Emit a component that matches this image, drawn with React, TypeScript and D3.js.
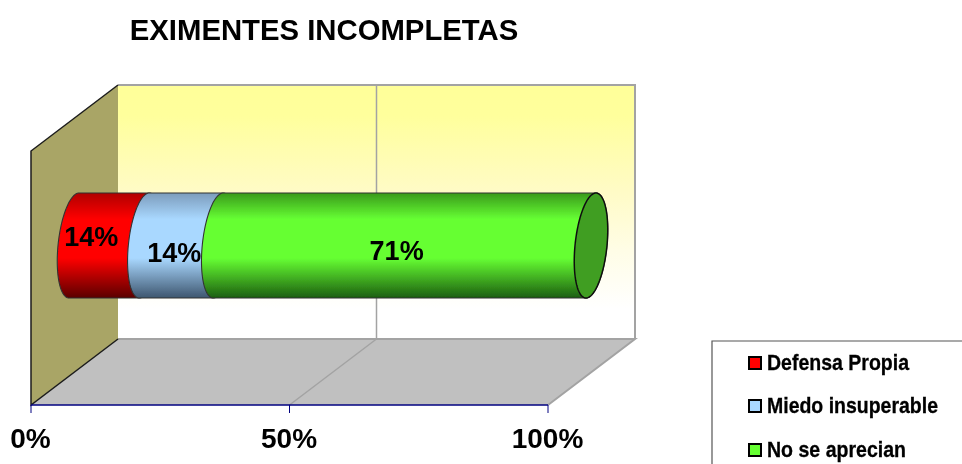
import React from "react";
import * as d3 from "d3";

const categories = ["Defensa Propia", "Miedo insuperable", "No se aprecian"];
const values = [13.6, 14.3, 72.1];
const barColors = ["#FF0000", "#A9D8FF", "#66FF33"];
const barTops = ["#B00000", "#7C9CBC", "#3A9A1C"];
const barBottoms = ["#5A0000", "#3E566F", "#1C5E10"];
const axisTicks = [0, 50, 100];
const labelTexts = ["14%", "14%", "71%"];

const W = 962, H = 464;
const depth = { x: 87, y: -66 };
const plot = { left: 31, right: 548, bottom: 405, top: 151 };
const x = d3.scaleLinear().domain([0, 100]).range([plot.left, plot.right]);
const bar = { top: 193, bottom: 298, shift: 43, rx: 16, lean: 5 };
const labelOffset = [[-18, -5], [-7, 11], [-8, 9]];
const font = "'Liberation Sans', Arial, sans-serif";

const cy = (bar.top + bar.bottom) / 2;
const ry = (bar.bottom - bar.top) / 2;
const bx = (v: number) => x(v) + bar.shift;
const ang = d3.range(0, 65).map((i) => (i / 64) * Math.PI);
// half of the leaning ellipse, from its top (t=0) to its bottom (t=PI); side=-1 bulges left
const edge = (v: number, side: number) =>
  ang.map((t): [number, number] => [
    bx(v) + side * bar.rx * Math.sin(t) + bar.lean * Math.cos(t),
    cy - ry * Math.cos(t),
  ]);
const line = d3.line();
const seg = (a: number, b: number) => {
  const left = edge(a, -1);
  const right = edge(b, 1).reverse();
  return line([...left, ...right])! + "Z";
};
const cum = d3.cumsum(values);
const starts = [0, ...cum.slice(0, -1)];
const legendRows = [370, 413, 457];
const legendLen = [142, 171, 139];

export default function App() {
  const poly = (p: [number, number][]) => line(p)! + "Z";
  const bl = x(0), br = x(100), y0 = plot.bottom;
  const back = { l: bl + depth.x, r: br + depth.x, b: y0 + depth.y, t: plot.top + depth.y };
  return (
    <svg width={W} height={H} style={{ position: "absolute", left: 0, top: 0 }} fontFamily={font}>
      <defs>
        <filter id="soft" x="0" y="0" width="100%" height="100%">
          <feGaussianBlur stdDeviation="0.4" />
        </filter>
        <linearGradient id="wall" x1="0" y1="0" x2="0" y2="1">
          <stop offset="0" stopColor="#FFFF99" />
          <stop offset="0.12" stopColor="#FFFF9C" />
          <stop offset="0.42" stopColor="#FFFBC6" />
          <stop offset="0.65" stopColor="#FFFDE6" />
          <stop offset="0.88" stopColor="#FFFFFF" />
        </linearGradient>
        {barColors.map((c, i) => (
          <linearGradient key={i} id={`g${i}`} gradientUnits="userSpaceOnUse" x1="0" x2="0" y1={bar.top} y2={bar.bottom}>
            <stop offset="0" stopColor={barTops[i]} />
            <stop offset="0.25" stopColor={c} />
            <stop offset="0.62" stopColor={c} />
            <stop offset="1" stopColor={barBottoms[i]} />
          </linearGradient>
        ))}
      </defs>
      <rect width={W} height={H} fill="#fff" />
      <g filter="url(#soft)">
        <text x={324} y={40} textAnchor="middle" fontWeight="bold" fontSize={29.3}>EXIMENTES INCOMPLETAS</text>

        <rect x={back.l} y={back.t} width={back.r - back.l} height={back.b - back.t} fill="url(#wall)" />
        <path d={`M${back.l},${back.t}H${back.r}V${back.b}`} fill="none" stroke="#A3A3A3" strokeWidth={2} />
        <path d={poly([[bl, y0], [br, y0], [back.r, back.b], [back.l, back.b]])} fill="#C0C0C0" />
        <path d={`M${back.l},${back.b}H${back.r}L${br},${y0}`} fill="none" stroke="#A3A3A3" strokeWidth={2} />
        <path d={`M${x(50)},${y0}L${x(50) + depth.x},${back.b}V${back.t}`} fill="none" stroke="#A3A3A3" strokeWidth={1.5} />
        <path d={poly([[bl, plot.top], [back.l, back.t], [back.l, back.b], [bl, y0]])} fill="#A9A566" />
        <path d={`M${back.l},${back.t}L${bl},${plot.top}V${y0}L${back.l},${back.b}`} fill="none" stroke="#1c1c1c" strokeWidth={1.5} />

        <line x1={bl} x2={br} y1={y0} y2={y0} stroke="#000080" strokeWidth={1.5} />
        {axisTicks.map((t) => (
          <g key={t}>
            <line x1={x(t)} x2={x(t)} y1={y0} y2={y0 + 8} stroke="#000080" strokeWidth={1} />
            <text x={x(t) - 0.5} y={448} textAnchor="middle" fontWeight="bold" fontSize={28}>{t}%</text>
          </g>
        ))}

        {values.map((v, i) => (
          <path key={i} d={seg(starts[i], starts[i] + v)} fill={`url(#g${i})`} stroke="#333" strokeWidth={1.1} />
        ))}
        <path d={seg(100, 100)} fill="#3F9E20" stroke="#111" strokeWidth={1.5} />
        {values.map((v, i) => (
          <text key={i} x={bx(starts[i] + v / 2) + labelOffset[i][0]} y={cy + labelOffset[i][1] + 5} textAnchor="middle" fontWeight="bold" fontSize={27}>
            {labelTexts[i]}
          </text>
        ))}

        <path d={`M712,${H}V341H${W}`} fill="none" stroke="#555" strokeWidth={1.2} />
        {categories.map((c, i) => (
          <g key={c}>
            <rect x={749} y={legendRows[i] - 13} width={12} height={12} fill={barColors[i]} stroke="#000" strokeWidth={2} />
            <text x={767} y={legendRows[i]} fontWeight="bold" fontSize={22} stroke="#000" strokeWidth={0.3} textLength={legendLen[i]} lengthAdjust="spacingAndGlyphs">{c}</text>
          </g>
        ))}
      </g>
    </svg>
  );
}
